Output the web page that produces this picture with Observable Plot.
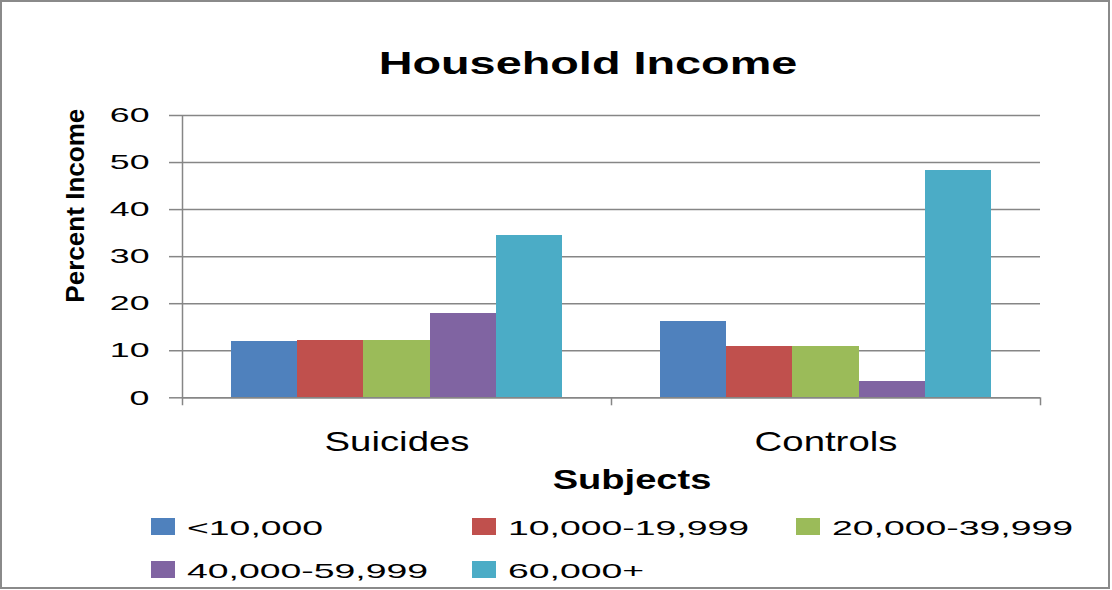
<!DOCTYPE html>
<html>
<head>
<meta charset="utf-8">
<script src="https://cdn.jsdelivr.net/npm/d3@7"></script>
<script src="https://cdn.jsdelivr.net/npm/@observablehq/plot@0.6"></script>
<style>
  html, body { margin: 0; padding: 0; background: #fff; }
  #wrap { position: relative; width: 1112px; height: 590px; overflow: hidden; font-family: "Liberation Sans", Arial, sans-serif; color: #000; }
  #border { position: absolute; left: 0; top: 0; width: 1110px; height: 589px; box-sizing: border-box; border: 2px solid #8a8a8a; pointer-events: none; }
  .t { position: absolute; white-space: nowrap; line-height: 1; }
  #chart { position: absolute; left: 0; top: 100px; }
  .sw { position: absolute; width: 24px; height: 17px; }
</style>
</head>
<body>
<div id="wrap">
  <div id="title" class="t" style="left:588px; top:48px; font-size:31px; font-weight:bold; transform-origin:center; transform:translateX(-50%) scaleX(1.51);">Household Income</div>
  <div id="chart"></div>
  <div id="xlabel" class="t" style="left:631.5px; top:466.5px; font-size:27px; font-weight:bold; transform-origin:center; transform:translateX(-50%) scaleX(1.41);">Subjects</div>
  <div id="legend"></div>
  <div id="border"></div>
</div>
<script>
// ---- data ----
const groups = ["Suicides", "Controls"];
const series = ["<10,000", "10,000-19,999", "20,000-39,999", "40,000-59,999", "60,000+"];
const suicides = [12.0, 12.2, 12.2, 17.9, 34.5];
const controls = [16.2, 10.9, 10.9, 3.5, 48.3];
const colors = ["#4F81BD", "#C0504D", "#9BBB59", "#8064A2", "#4BACC6"];
const yTicks = [0, 10, 20, 30, 40, 50, 60];
const yLabel = "Percent Income";

const values = {Suicides: suicides, Controls: controls};
const data = groups.flatMap(g => series.map((s, i) => ({group: g, series: s, value: values[g][i]})));

// ---- layout ----
const W = 1112, H = 360, mT = 15, mB = 62.7, mL = 182, mR = 72;
const padOuter = 0.74;
const facetW = (W - mL - mR) / groups.length;
const step = facetW / (series.length + 2 * padOuter);
const edgeOff = step * (padOuter + 0.5);
const pxPerUnit = (H - mT - mB) / 60;
const below = -8 / pxPerUnit;

const axisLine = [{group: groups[0], series: series[0], y1: below, y2: 60}];
const leftTicks = groups.slice(1).map(g => ({group: g, series: series[0], y1: below, y2: 0}));
const rightTicks = [{group: groups[groups.length - 1], series: series[series.length - 1], y1: below, y2: 0}];
const grey = "#868686";

const chart = Plot.plot({
  width: W, height: H,
  marginTop: mT, marginBottom: mB, marginLeft: mL, marginRight: mR,
  style: {fontFamily: "'Liberation Sans', Arial, sans-serif", background: "transparent", overflow: "visible", color: "#000"},
  fx: {domain: groups, padding: 0, label: null},
  x: {domain: series, paddingInner: 0, paddingOuter: padOuter, round: false, axis: null},
  y: {domain: [0, 60], label: null},
  color: {domain: series, range: colors},
  marks: [
    Plot.gridY(yTicks, {stroke: grey, strokeOpacity: 1, strokeWidth: 1.5}),
    Plot.barY(data, {fx: "group", x: "series", y: "value", fill: "series", inset: 0, shapeRendering: "crispEdges"}),
    Plot.ruleY([0], {stroke: grey, strokeWidth: 1.5}),
    Plot.ruleX(axisLine, {fx: "group", x: "series", y1: "y1", y2: "y2", dx: -edgeOff, stroke: grey, strokeWidth: 1.5}),
    Plot.ruleX(leftTicks, {fx: "group", x: "series", y1: "y1", y2: "y2", dx: -edgeOff, stroke: grey, strokeWidth: 1.5}),
    Plot.ruleX(rightTicks, {fx: "group", x: "series", y1: "y1", y2: "y2", dx: edgeOff, stroke: grey, strokeWidth: 1.5}),
    Plot.axisY({ticks: yTicks, tickSize: 13, tickPadding: 20, fontSize: 21, stroke: grey, strokeWidth: 1.5, fill: "#000", label: null, anchor: "left"}),
    Plot.axisFx({anchor: "bottom", tickSize: 0, tickPadding: 33, fontSize: 28, fill: "#000", label: null}),
    Plot.text([{group: groups[0], t: yLabel}], {fx: "group", text: "t", frameAnchor: "left", rotate: -90, dx: -107, dy: -51, fontSize: 25, fontWeight: "bold", textAnchor: "middle", fill: "#000"})
  ]
});
document.getElementById("chart").appendChild(chart);

// stretch texts horizontally like the reference
function stretch(sel, k) {
  chart.querySelectorAll(sel).forEach(t => {
    const L = t.getComputedTextLength();
    t.setAttribute("textLength", (L * k).toFixed(1));
    t.setAttribute("lengthAdjust", "spacingAndGlyphs");
  });
}
chart.querySelectorAll("text").forEach(t => {
  const g = t.closest("g[aria-label]");
  const lab = g ? g.getAttribute("aria-label") : "";
  const L = t.getComputedTextLength();
  let k = 1;
  if (/^y-axis/.test(lab)) k = 1.7;
  else if (/^fx-axis/.test(lab)) k = 1.37;
  else if (lab === "text") k = 194 / L;
  if (k !== 1) {
    t.setAttribute("textLength", (L * k).toFixed(1));
    t.setAttribute("lengthAdjust", "spacingAndGlyphs");
  }
});

// ---- legend ----
const legend = document.getElementById("legend");
const colX = [151, 472, 796], rowY = [518, 561];
series.forEach((s, i) => {
  const r = Math.floor(i / 3), c = i % 3;
  const sw = document.createElement("div");
  sw.className = "sw";
  sw.style.left = colX[c] + "px";
  sw.style.top = rowY[r] + "px";
  sw.style.background = colors[i];
  legend.appendChild(sw);
  const tx = document.createElement("div");
  tx.className = "t";
  tx.textContent = s;
  tx.style.left = (colX[c] + 36) + "px";
  tx.style.top = (rowY[r] - 0.7) + "px";
  tx.style.fontSize = "21px";
  tx.style.transformOrigin = "left center";
  tx.style.transform = "scaleX(1.78)";
  legend.appendChild(tx);
});
</script>
</body>
</html>
